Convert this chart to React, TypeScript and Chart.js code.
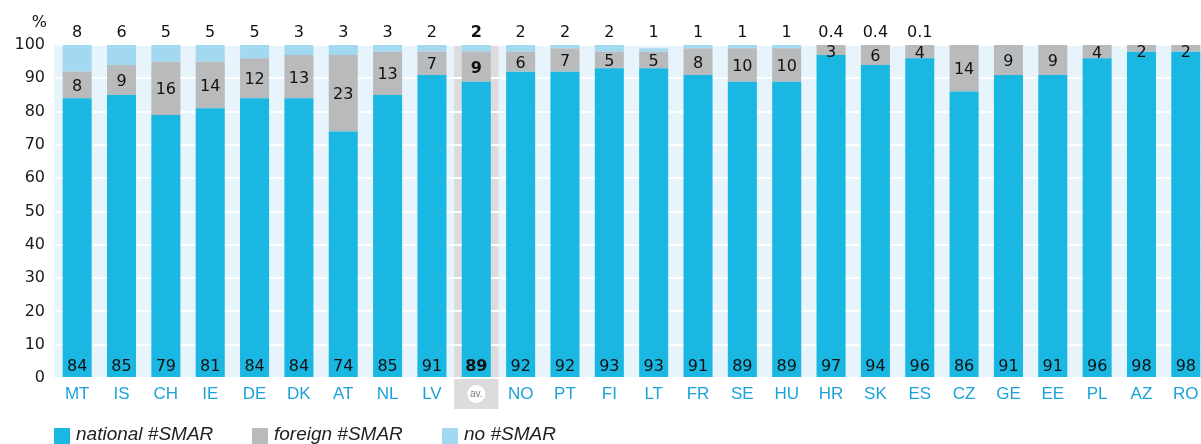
import React, { useEffect, useRef } from "react";
import { Chart, registerables } from "chart.js";

Chart.register(...registerables);

const categories = ["MT","IS","CH","IE","DE","DK","AT","NL","LV","av.","NO","PT","FI","LT","FR","SE","HU","HR","SK","ES","CZ","GE","EE","PL","AZ","RO"];
const nationalVals = [84,85,79,81,84,84,74,85,91,89,92,92,93,93,91,89,89,97,94,96,86,91,91,96,98,98];
const foreignVals = [8,9,16,14,12,13,23,13,7,9,6,7,5,5,8,10,10,3,6,4,14,9,9,4,2,2];
const noVals: (number | null)[] = [8,6,5,5,5,3,3,3,2,2,2,2,2,1,1,1,1,0.4,0.4,0.1,null,null,null,null,null,null];
const yTicks = [0,10,20,30,40,50,60,70,80,90,100];
const seriesNames = ["national #SMAR","foreign #SMAR","no #SMAR"];
const seriesColors = ["#1AB7E2","#B9BABC","#A3D9F0"];

const AV = "av.";
const NUM_FONT = "DejaVu Sans";

const labelPlugin = {
  id: "customLabels",
  beforeDraw(chart: any) {
    const ctx = chart.ctx;
    const area = chart.chartArea;
    ctx.save();
    ctx.fillStyle = "#E8F4FB";
    ctx.fillRect(area.left - 1, area.top, area.right - area.left + 1, area.bottom - area.top);
    const xs = chart.scales.x;
    const i = categories.indexOf(AV);
    if (i >= 0) {
      const cx = xs.getPixelForValue(i);
      const w = (area.right - area.left) / categories.length;
      ctx.fillStyle = "#DCDCDC";
      ctx.fillRect(cx - w / 2, area.top, w, 409 - area.top);
    }
    ctx.restore();
  },
  afterDatasetsDraw(chart: any) {
    const ctx = chart.ctx;
    const area = chart.chartArea;
    ctx.save();
    ctx.textAlign = "center";
    ctx.textBaseline = "middle";
    ctx.fillStyle = "#111";
    const m0 = chart.getDatasetMeta(0);
    const m1 = chart.getDatasetMeta(1);
    categories.forEach((c, i) => {
      const bold = c === AV ? "bold " : "";
      ctx.font = `${bold}16px '${NUM_FONT}'`;
      const b0 = m0.data[i];
      ctx.fillText(String(nationalVals[i]), b0.x, 367);
      const b1 = m1.data[i];
      const top = Math.max(Math.min(b1.y, b1.base), area.top);
      const bot = Math.max(b1.y, b1.base);
      const cy = Math.max((top + bot) / 2 + 2, area.top + 8);
      ctx.fillText(String(foreignVals[i]), b1.x, cy);
      const nv = noVals[i];
      if (nv !== null && nv !== undefined) {
        ctx.fillText(String(nv), b0.x, 33);
      }
    });
    ctx.restore();
  },
  afterDraw(chart: any) {
    const ctx = chart.ctx;
    const xs = chart.scales.x;
    ctx.save();
    ctx.fillStyle = "#111";
    ctx.font = `16px '${NUM_FONT}'`;
    ctx.textAlign = "right";
    ctx.textBaseline = "middle";
    ctx.fillText("%", 47, 23);
    const i = categories.indexOf(AV);
    if (i >= 0) {
      const cx = xs.getPixelForValue(i);
      ctx.beginPath();
      ctx.arc(cx, 394, 9, 0, Math.PI * 2);
      ctx.fillStyle = "#FFFFFF";
      ctx.fill();
      ctx.fillStyle = "#777";
      ctx.font = "10px 'Liberation Sans'";
      ctx.textAlign = "center";
      ctx.fillText("av.", cx, 394);
    }
    // legend
    const legendX = [54, 252, 442];
    ctx.textAlign = "left";
    ctx.textBaseline = "middle";
    ctx.font = "italic 19px 'Liberation Sans'";
    seriesNames.forEach((name, k) => {
      ctx.fillStyle = seriesColors[k];
      ctx.fillRect(legendX[k], 428, 16, 16);
      ctx.fillStyle = "#222";
      ctx.fillText(name, legendX[k] + 22, 435);
    });
    ctx.restore();
  },
};

export default function App() {
  const ref = useRef<HTMLCanvasElement | null>(null);
  useEffect(() => {
    if (!ref.current) return;
    const chart = new Chart(ref.current, {
      type: "bar",
      data: {
        labels: categories,
        datasets: [
          { label: seriesNames[0], data: nationalVals, backgroundColor: seriesColors[0] },
          { label: seriesNames[1], data: foreignVals, backgroundColor: seriesColors[1] },
          { label: seriesNames[2], data: noVals as any, backgroundColor: seriesColors[2] },
        ],
      },
      options: {
        responsive: false,
        animation: false,
        devicePixelRatio: 1,
        layout: { padding: { top: 45, right: 0, left: 0, bottom: 0 } },
        datasets: { bar: { barPercentage: 0.655, categoryPercentage: 1, borderWidth: 0 } },
        plugins: { legend: { display: false }, tooltip: { enabled: false } },
        scales: {
          x: {
            stacked: true,
            grid: { display: false, drawTicks: false },
            border: { display: false },
            ticks: {
              color: "#1BA3D9",
              font: { family: "Liberation Sans", size: 17 },
              padding: 6,
              maxRotation: 0,
              autoSkip: false,
              callback: (_v: any, idx: number) => (categories[idx] === AV ? "" : categories[idx]),
            },
            afterFit: (s: any) => { s.height = 66; },
          },
          y: {
            stacked: true,
            min: yTicks[0],
            max: yTicks[yTicks.length - 1],
            afterBuildTicks: (s: any) => { s.ticks = yTicks.map((v) => ({ value: v })); },
            grid: { color: "#FFFFFF", lineWidth: 2, drawTicks: false },
            border: { display: false },
            ticks: {
              color: "#1a1a1a",
              font: { family: NUM_FONT, size: 16 },
              padding: 10,
            },
            afterFit: (s: any) => { s.width = 55; },
          },
        },
      },
      plugins: [labelPlugin],
    });
    return () => chart.destroy();
  }, []);
  return (
    <div style={{ position: "fixed", left: 0, top: 0, width: 1201, height: 444, overflow: "hidden", background: "#fff" }}>
      <canvas ref={ref} width={1208} height={444} style={{ display: "block" }} />
    </div>
  );
}
